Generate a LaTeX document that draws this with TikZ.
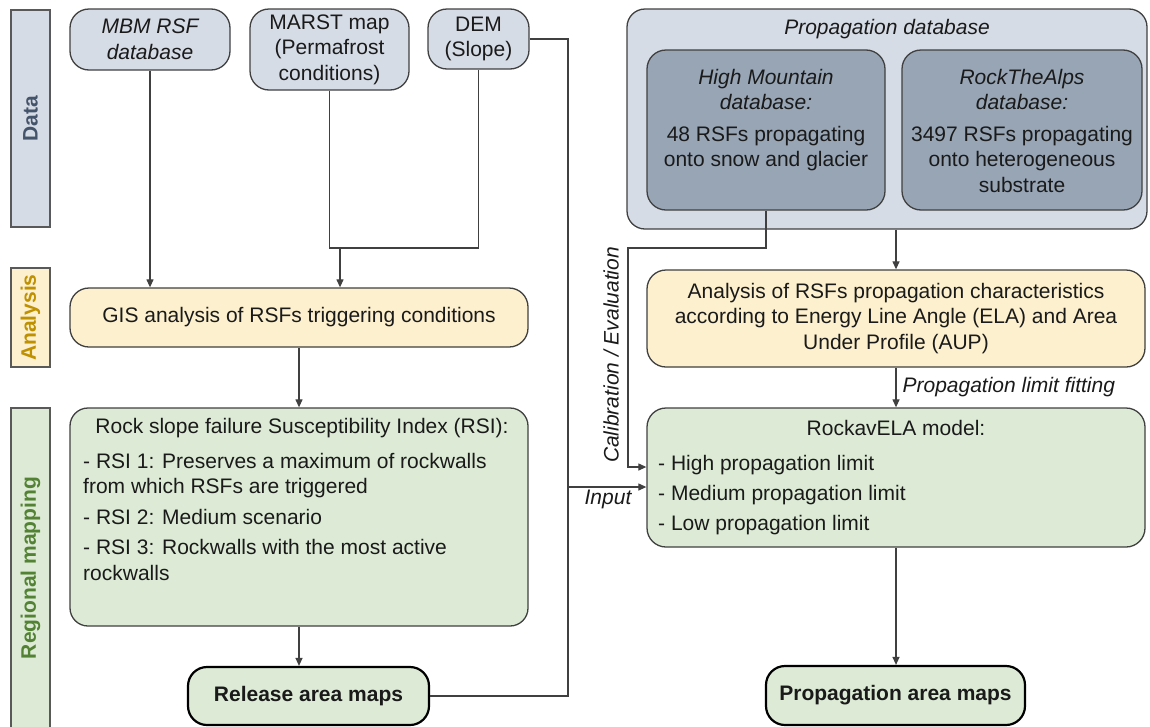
\documentclass[tikz,border=0pt]{standalone}
\usepackage{fontspec}
\setmainfont{Liberation Sans}
\usetikzlibrary{arrows.meta}
\definecolor{dbfill}{HTML}{D6DCE5}
\definecolor{dbdark}{HTML}{97A5B5}
\definecolor{yfill}{HTML}{FDF0CE}
\definecolor{gfill}{HTML}{DDEBD6}
\definecolor{dtext}{HTML}{44546A}
\definecolor{atext}{HTML}{BF9000}
\definecolor{gtext}{HTML}{548235}
\definecolor{lc}{HTML}{404040}
\definecolor{barc}{HTML}{595959}
\definecolor{tc}{HTML}{1A1A1A}
\newcommand\myfs{\fontsize{21}{25.5}\selectfont}
\begin{document}
\begin{tikzpicture}[x=1pt,y=-1pt,
  box/.style={draw=lc, line width=1.3pt, rounded corners=19pt, inner sep=0pt, align=center, font=\myfs, text=tc},
  databox/.style={box, fill=dbfill},
  ybox/.style={box, fill=yfill},
  gbox/.style={box, fill=gfill},
  outbox/.style={box, fill=gfill, draw=black, line width=2.2pt, font=\myfs\bfseries},
  bar/.style={draw=barc, line width=1.5pt, inner sep=0pt, rotate=90, font=\myfs\bfseries, minimum height=39pt},
  txt/.style={inner sep=0pt, font=\myfs, text=tc},
  lbl/.style={inner sep=0pt, font=\myfs\itshape, text=tc},
  conn/.style={draw=lc, line width=1.2pt},
  arr/.style={conn, -{Triangle[length=8pt,width=7pt]}},
]
\useasboundingbox (0,0) rectangle (1150,726);

% side bars
\node[bar, fill=dbfill, text=dtext, minimum width=217pt] (bdata) at (30.5,118.5) {Data};
\node[bar, fill=yfill, text=atext, minimum width=99pt] (bana) at (30.5,317.5) {Analysis};
\node[bar, fill=gfill, text=gtext, minimum width=320pt] (breg) at (30.5,568) {Regional mapping};

% data boxes
\node[databox, minimum width=160pt, minimum height=61pt] (mbm) at (150,39.5) {\itshape MBM RSF\\\itshape database};
\node[databox, minimum width=159pt, minimum height=81pt] (marst) at (329.5,49.5) {MARST map\\(Permafrost\\conditions)};
\node[databox, minimum width=101pt, minimum height=60pt] (dem) at (478.5,39) {DEM\\(Slope)};

% propagation database
\node[databox, rounded corners=18pt, minimum width=520pt, minimum height=220pt] (pdb) at (887,119) {};
\node[lbl] (pdbt) at (887,29) {Propagation database};
\node[box, fill=dbdark, minimum width=238pt, minimum height=160pt] (hm) at (766,130) {};
\node[box, fill=dbdark, minimum width=240pt, minimum height=160pt] (rta) at (1022,130) {};
\node[txt, align=center, anchor=north] (hmt) at (766,69) {\itshape High Mountain\\\itshape database:\\[6pt]48 RSFs propagating\\onto snow and glacier};
\node[txt, align=center, anchor=north] (rtat) at (1022,69) {\itshape RockTheAlps\\\itshape database:\\[6pt]3497 RSFs propagating\\onto heterogeneous\\substrate};

% analysis
\node[ybox, minimum width=458pt, minimum height=59pt] (gis) at (299,317.5) {GIS analysis of RSFs triggering conditions};
\node[ybox, minimum width=498pt, minimum height=97pt] (ana) at (896,318.5) {\fontsize{21}{26.5}\selectfont Analysis of RSFs propagation characteristics\\according to Energy Line Angle (ELA) and Area\\Under Profile (AUP)};

% regional mapping
\node[gbox, rounded corners=18pt, minimum width=458pt, minimum height=218pt] (rsi) at (299,517) {};
\node[txt] (rsit) at (302,428) {Rock slope failure Susceptibility Index (RSI):};
\node[txt, align=left, anchor=north west] (rsii) at (83,453) {- RSI 1: Preserves a maximum of rockwalls\\from which RSFs are triggered\\[5pt]- RSI 2: Medium scenario\\[5pt]- RSI 3: Rockwalls with the most active\\rockwalls};

\node[gbox, minimum width=498pt, minimum height=139pt] (rock) at (896,477.5) {};
\node[txt] (rockt) at (896,428) {RockavELA model:};
\node[txt, align=left, anchor=north west] (rocki) at (658,455) {- High propagation limit\\[4.5pt]- Medium propagation limit\\[4.5pt]- Low propagation limit};

\node[outbox, minimum width=241pt, minimum height=58pt] (rel) at (308.5,696) {Release area maps};
\node[outbox, minimum width=259pt, minimum height=59pt] (pam) at (895.5,695.5) {Propagation area maps};

% connectors
\coordinate (j) at (340,248);
\coordinate (vr) at (568,696);
\coordinate (inp) at (568,487);
\coordinate (cal) at (628,248);
\draw[arr] (mbm.south) -- (mbm.south |- gis.north);
\draw[conn] (marst.south) |- (dem.south |- j) -- (dem.south);
\draw[arr] (j) -- (j |- gis.north);
\draw[conn] (dem.east) -| (vr) -- (rel.east);
\draw[arr] (inp) -- (inp -| rock.west);
\draw[arr] (hm.south) |- (cal) |- (rock.west |- 0,467);
\draw[arr] (ana.north |- pdb.south) -- (ana.north);
\draw[arr] (ana.south) -- (rock.north) node[midway, right, lbl, xshift=6pt] (plf) {Propagation limit fitting};
\draw[arr] (gis.south) -- (rsi.north);
\draw[arr] (rsi.south) -- (rsi.south |- rel.north);
\draw[arr] (rock.south) -- (rock.south |- pam.north);

\node[lbl, rotate=90] (calt) at (611,355) {Calibration / Evaluation};
\node[lbl] (inpt) at (608,499) {Input};
\end{tikzpicture}
\end{document}
